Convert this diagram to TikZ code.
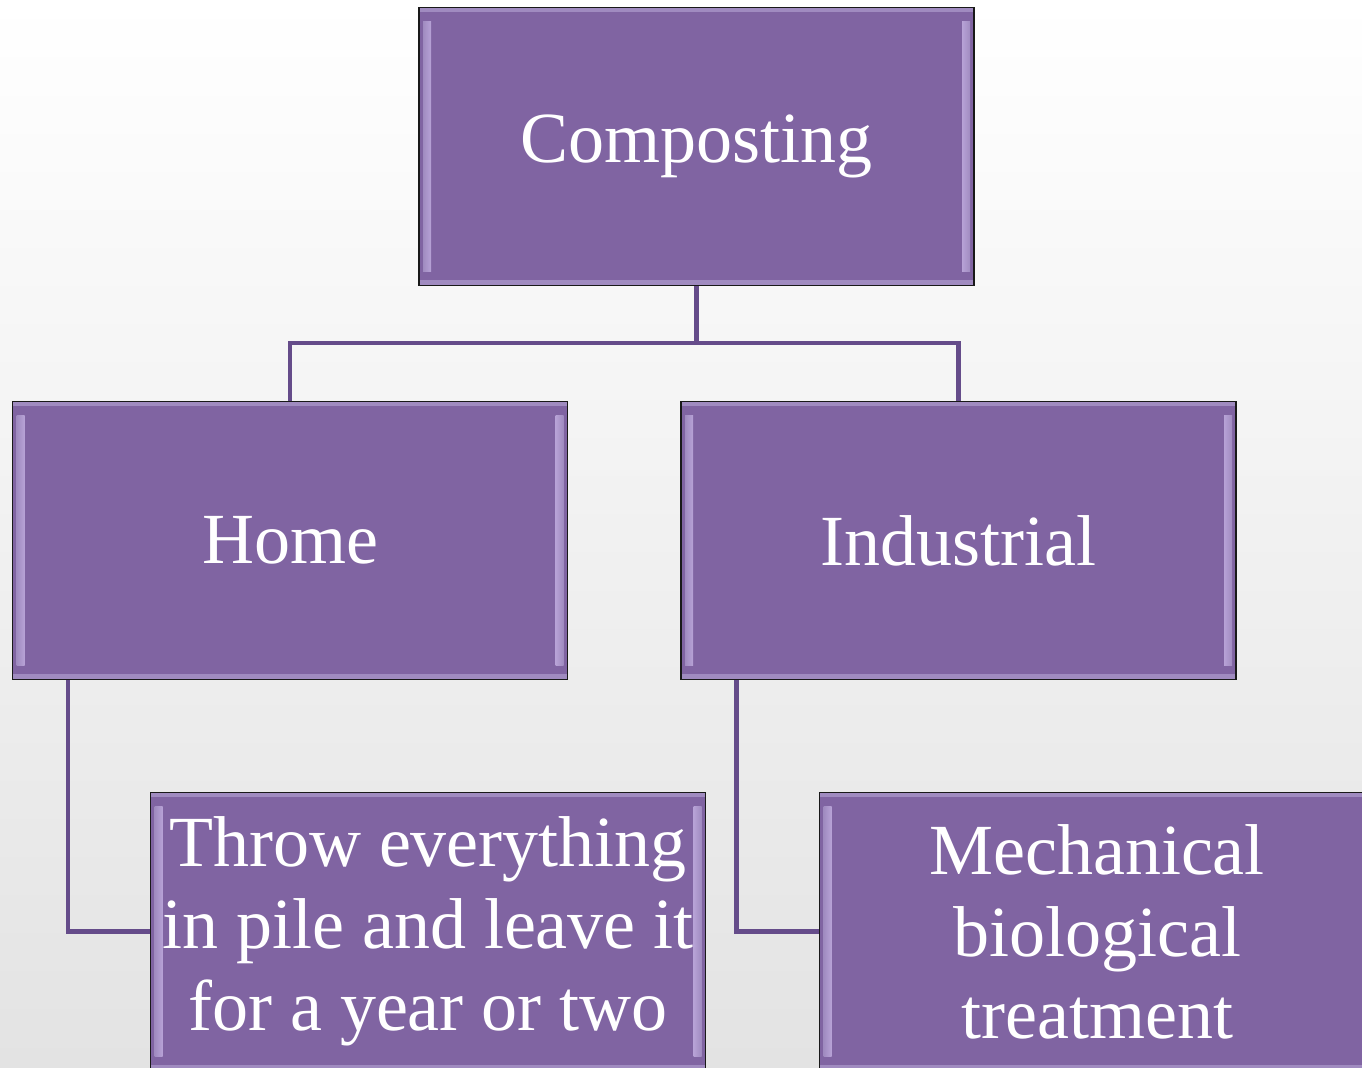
\documentclass[tikz,border=0pt]{standalone}
\usepackage{fontspec}
\setmainfont{Liberation Serif}
\usepackage{tikz}
\usetikzlibrary{shapes.geometric, arrows}
\definecolor{boxfill}{HTML}{8064A2}
\definecolor{bevband}{HTML}{A08BC0}
\definecolor{bevlite}{HTML}{F2E8FD}
\definecolor{bevmid}{HTML}{B7A2D6}
\definecolor{linkcol}{HTML}{654C8A}
\tikzstyle{treebox} = [rectangle, minimum width=277.5pt, minimum height=139pt, text centered, align=center, font=\fontsize{36}{41}\selectfont, text=white, draw=black!90, line width=0.7pt, fill=boxfill,
  path picture={
    \fill[bevband] (path picture bounding box.north west) rectangle ([yshift=-2.5pt]path picture bounding box.north east);
    \fill[bevband] (path picture bounding box.south west) rectangle ([yshift=2.5pt]path picture bounding box.south east);
    \fill[left color=bevband, middle color=bevlite, right color=bevmid] ([xshift=2pt,yshift=-7pt]path picture bounding box.north west) rectangle ([xshift=6pt,yshift=7pt]path picture bounding box.south west);
    \fill[left color=bevmid, middle color=bevlite, right color=bevband] ([xshift=-6pt,yshift=-7pt]path picture bounding box.north east) rectangle ([xshift=-2pt,yshift=7pt]path picture bounding box.south east);
  }]
\tikzstyle{link} = [linkcol, line width=2.2pt]

\begin{document}
\begin{tikzpicture}[node distance=197pt]

% background
\shade[top color=white, bottom color=black!11] (0,0) rectangle (681pt,-534pt);
\useasboundingbox (0,0) rectangle (681pt,-534pt);

\node (comp) [treebox] at (348.25pt,-73.25pt) {Composting};

\node (home) [treebox, below of=comp, xshift=-203.25pt] {Home};

\node (ind) [treebox, below of=comp, xshift=131pt] {Industrial};

\node (throw) [treebox, below of=home, xshift=69pt, yshift=1.5pt] {Throw everything\\in pile and leave it\\for a year or two};

\node (mech) [treebox, below of=ind, xshift=69.25pt, yshift=1.5pt] {Mechanical\\biological\\treatment};

% connectors
\draw [link] (comp.south) -- ++(0,-28.5pt) -| (home.north);
\draw [link] (comp.south) -- ++(0,-28.5pt) -| (ind.north);
\draw [link] ([xshift=28pt]home.south west) |- (throw.west);
\draw [link] ([xshift=28pt]ind.south west) |- (mech.west);

\end{tikzpicture}
\end{document}
